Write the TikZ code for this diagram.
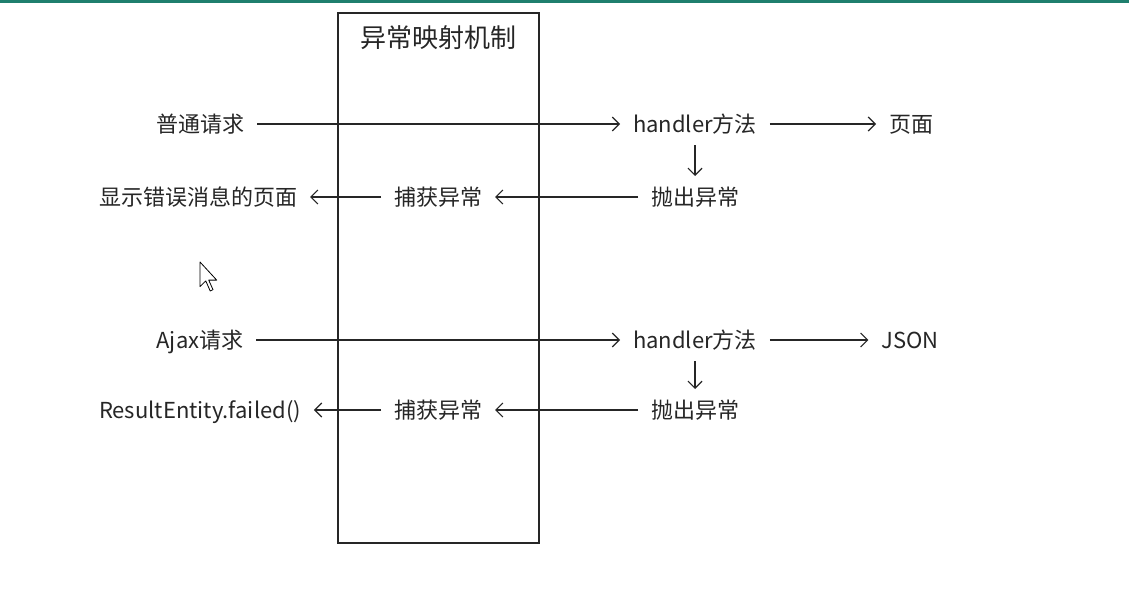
\documentclass[tikz,border=0pt]{standalone}
\usepackage{fontspec}
\newfontfamily\cjk{Noto Sans CJK SC}
\usepackage{xcolor}
\usetikzlibrary{arrows.meta}
\definecolor{teal_bar}{HTML}{1F7F6E}
\definecolor{dark_gray}{HTML}{262626}

\begin{document}
\begin{tikzpicture}[x=1pt,y=-1pt,>={Straight Barb[length=7pt,width=14pt]}]

        % Fond et bande du haut
        \useasboundingbox (0,0) rectangle (1129,602);
        \fill[white] (0,0) rectangle (1129,602);
        \fill[teal_bar] (0,0) rectangle (1129,3);

        \tikzset{texte/.style={font=\cjk\fontsize{22}{26}\selectfont, text=dark_gray, inner sep=0pt,
                  text height=19pt, text depth=3pt, outer xsep=13pt, outer ysep=10pt},
                 fleche/.style={->, dark_gray, line width=1.2pt}}

        % Cadre du mécanisme de gestion des exceptions
        \draw[dark_gray, line width=1.2pt] (338,13) rectangle (539,543);
        \node[font=\cjk\fontsize{26}{30}\selectfont, text=dark_gray] (titre) at (438,38) {异常映射机制};

        % Requête normale
        \node[texte] (req1) at (200,124) {普通请求};
        \node[texte] (hdl1) at (695,124) {handler方法};
        \node[texte] (page) at (911,124) {页面};
        \node[texte] (err1) at (198,197) {显示错误消息的页面};
        \node[texte] (cap1) at (438,197) {捕获异常};
        \node[texte] (thr1) at (695,197) {抛出异常};

        % Requête Ajax
        \node[texte] (req2) at (200,340) {Ajax请求};
        \node[texte] (hdl2) at (695,340) {handler方法};
        \node[texte] (json) at (910,340) {JSON};
        \node[texte] (err2) at (200,410) {ResultEntity.failed()};
        \node[texte] (cap2) at (438,410) {捕获异常};
        \node[texte] (thr2) at (695,410) {抛出异常};

        % Dessiner les flèches
        \draw[fleche] (req1) -- (hdl1);
        \draw[fleche] (hdl1) -- (page);
        \draw[fleche] (hdl1) -- (thr1);
        \draw[fleche] (thr1) -- (cap1);
        \draw[fleche] (cap1) -- (err1);

        \draw[fleche] (req2) -- (hdl2);
        \draw[fleche] (hdl2) -- (json);
        \draw[fleche] (hdl2) -- (thr2);
        \draw[fleche] (thr2) -- (cap2);
        \draw[fleche] (cap2) -- (err2);

        % Curseur de la souris
        \draw[fill=white, line width=0.8pt, line join=round] (200,262) -- ++(0,24.6) -- ++(5.8,-5.7)
              -- ++(4.4,10.1) -- ++(2.8,-1.4) -- ++(-4.3,-9.5) -- ++(8,0) -- cycle;
    \end{tikzpicture}
\end{document}
